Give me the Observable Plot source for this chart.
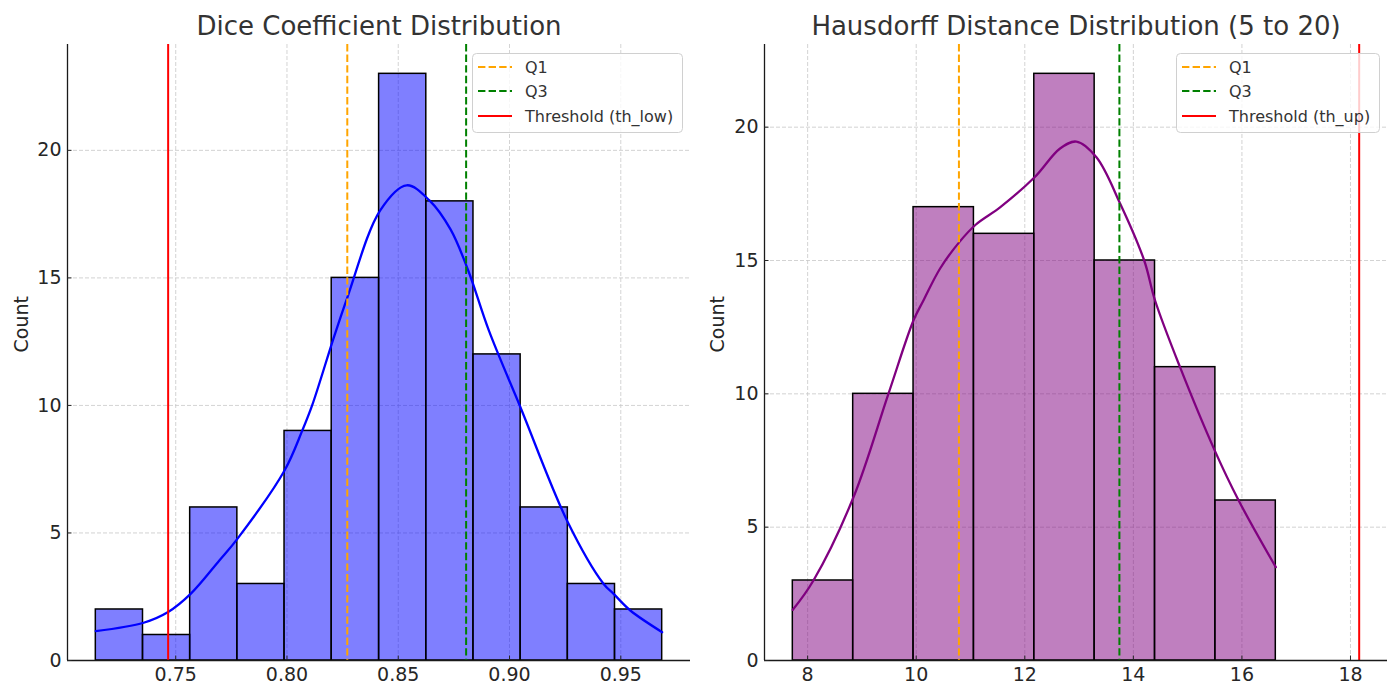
<!DOCTYPE html>
<html>
<head>
<meta charset="utf-8">
<script src="https://cdn.jsdelivr.net/npm/d3@7"></script>
<script src="https://cdn.jsdelivr.net/npm/@observablehq/plot@0.6"></script>
<style>
  html, body { margin: 0; padding: 0; background: white; overflow: hidden; }
  #wrap { position: relative; width: 1387px; height: 683px; font-family: "DejaVu Sans", sans-serif; }
  .pane { position: absolute; top: 0; }
  .legend { position: absolute; }
</style>
</head>
<body>
<div id="wrap">
  <div id="left" class="pane" style="left:0px"></div>
  <div id="right" class="pane" style="left:695px"></div>
</div>
<script>
// ---------- Data ----------
const countTicks = [0, 5, 10, 15, 20];

// Dice coefficient histogram
const diceEdges = [0.7141, 0.7353, 0.7565, 0.7777, 0.7989, 0.8201, 0.8414, 0.8626, 0.8838, 0.9050, 0.9262, 0.9474, 0.9686];
const diceCounts = [2, 1, 6, 3, 9, 15, 23, 18, 12, 6, 3, 2];
const diceKdeX = [0.7141, 0.7356, 0.7466, 0.7567, 0.7696, 0.7777, 0.7989, 0.8069, 0.8113, 0.8211, 0.8272, 0.8419, 0.8538, 0.8640, 0.8735, 0.8814, 0.8907, 0.9049, 0.9262, 0.9423, 0.9468, 0.9543, 0.9686];
const diceKdeY = [1.15, 1.48, 1.90, 2.61, 3.92, 4.77, 7.45, 9.02, 10.0, 12.68, 14.25, 17.65, 18.63, 18.04, 16.90, 15.30, 12.94, 9.93, 5.42, 3.00, 2.61, 1.96, 1.11];
const diceQ1 = 0.8271, diceQ3 = 0.8805, diceThLow = 0.7466;
const diceXTicks = [0.75, 0.80, 0.85, 0.90, 0.95];
const diceTitle = "Dice Coefficient Distribution";
const diceLegend = ["Q1", "Q3", "Threshold (th_low)"];

// Hausdorff distance histogram
const hdEdges = [7.727, 8.839, 9.951, 11.063, 12.175, 13.287, 14.399, 15.511, 16.624];
const hdCounts = [3, 10, 17, 16, 22, 15, 11, 6];
const hdKdeX = [7.727, 8.107, 8.844, 9.488, 9.949, 10.133, 10.44, 10.79, 11.10, 11.55, 12.18, 12.65, 12.95, 13.32, 13.76, 14.20, 14.40, 14.86, 15.50, 15.94, 16.624];
const hdKdeY = [1.90, 3.00, 6.12, 10.0, 12.75, 13.5, 14.7, 15.68, 16.35, 17.0, 18.12, 19.2, 19.46, 18.87, 17.12, 15.0, 13.5, 11.0, 7.87, 6.0, 3.5];
const hdQ1 = 10.787, hdQ3 = 13.743, hdThUp = 18.16;
const hdXTicks = [8, 10, 12, 14, 16, 18];
const hdTitle = "Hausdorff Distance Distribution (5 to 20)";
const hdLegend = ["Q1", "Q3", "Threshold (th_up)"];

// ---------- Drawing ----------
const FONT = "DejaVu Sans, sans-serif";
const GRID = {stroke: "#c8c8c8", strokeOpacity: 1, strokeWidth: 0.8, strokeDasharray: "4,2"};

function panel(o) {
  const bins = o.counts.map((c, i) => ({x0: o.edges[i], x1: o.edges[i + 1], count: c}));
  const kde = o.kdeX.map((x, i) => ({x, y: o.kdeY[i]}));
  const lo = Math.min(o.edges[0], o.th, o.q1);
  const hi = Math.max(o.edges[o.edges.length - 1], o.th, o.q3);
  const pad = (hi - lo) * 0.05;
  const xDomain = [lo - pad, hi + pad];
  const yDomain = [0, d3.max(o.counts) * 1.05];
  return Plot.plot({
    width: o.width, height: 683,
    marginLeft: o.mLeft, marginRight: o.mRight, marginTop: 44, marginBottom: 23,
    x: {domain: xDomain},
    y: {domain: yDomain},
    style: {fontFamily: FONT, fontSize: "19px", color: "#262626", background: "transparent", overflow: "visible"},
    marks: [
      Plot.gridX(o.xTicks, GRID),
      Plot.gridY(countTicks, GRID),
      Plot.rectY(bins, {x1: "x0", x2: "x1", y: "count", fill: o.color, fillOpacity: 0.5, stroke: "black", strokeWidth: 1.5}),
      Plot.line(kde, {x: "x", y: "y", stroke: o.color, strokeWidth: 2.3, curve: "catmull-rom"}),
      Plot.ruleX([o.q1], {stroke: "orange", strokeWidth: 2, strokeDasharray: "7.4,3.2"}),
      Plot.ruleX([o.q3], {stroke: "green", strokeWidth: 2, strokeDasharray: "7.4,3.2"}),
      Plot.ruleX([o.th], {stroke: "red", strokeWidth: 2}),
      Plot.ruleY([0], {stroke: "#1a1a1a", strokeWidth: 1.3}),
      Plot.ruleX([xDomain[0]], {stroke: "#1a1a1a", strokeWidth: 1.3}),
      Plot.axisX({ticks: o.xTicks, tickSize: 0, tickPadding: 7, tickFormat: o.xFormat, fontSize: 19, label: null}),
      Plot.axisX({ticks: o.xTicks, tickSize: 4.5, dy: -4.5, tickFormat: () => "", label: null}),
      Plot.axisY({ticks: countTicks, tickSize: 0, tickPadding: 6, fontSize: 19, label: null}),
      Plot.axisY({ticks: countTicks, tickSize: 4.5, dx: 4.5, tickFormat: () => "", label: null}),
      Plot.text([o.title], {text: d => d, frameAnchor: "top", dy: -9.5, lineAnchor: "bottom", fontSize: 26, fill: "#333"}),
      Plot.text(["Count"], {text: d => d, frameAnchor: "left", dx: o.labelDx, rotate: -90, fontSize: 19, fill: "#262626"})
    ]
  });
}

function legend(container, labels, box) {
  const styles = [
    {stroke: "orange", dash: "7.4,3.2"},
    {stroke: "green", dash: "7.4,3.2"},
    {stroke: "red", dash: null}
  ];
  const svg = d3.select(container).append("svg")
    .attr("class", "legend")
    .style("left", box.left + "px").style("top", box.top + "px")
    .attr("width", box.width + 2).attr("height", box.height + 2);
  svg.append("rect")
    .attr("x", 0.5).attr("y", 0.5).attr("width", box.width).attr("height", box.height)
    .attr("rx", 4).attr("fill", "white").attr("fill-opacity", 0.8)
    .attr("stroke", "#d0d0d0").attr("stroke-width", 1);
  const rows = [14, 38, 63];
  labels.forEach((lab, i) => {
    const s = styles[i];
    const ln = svg.append("line").attr("x1", 6).attr("x2", 40).attr("y1", rows[i]).attr("y2", rows[i])
      .attr("stroke", s.stroke).attr("stroke-width", 2);
    if (s.dash) ln.attr("stroke-dasharray", s.dash);
    svg.append("text").attr("x", 53).attr("y", rows[i]).attr("dy", "0.35em")
      .attr("font-family", FONT).attr("font-size", 16).attr("fill", "#333").text(lab);
  });
}

const wrap = document.getElementById("wrap");

document.getElementById("left").append(panel({
  edges: diceEdges, counts: diceCounts, kdeX: diceKdeX, kdeY: diceKdeY,
  q1: diceQ1, q3: diceQ3, th: diceThLow, color: "blue",
  xTicks: diceXTicks, xFormat: d3.format(".2f"), title: diceTitle,
  width: 695, mLeft: 67, mRight: 5, labelDx: -46
}));

document.getElementById("right").append(panel({
  edges: hdEdges, counts: hdCounts, kdeX: hdKdeX, kdeY: hdKdeY,
  q1: hdQ1, q3: hdQ3, th: hdThUp, color: "purple",
  xTicks: hdXTicks, xFormat: d3.format("d"), title: hdTitle,
  width: 692, mLeft: 69, mRight: 0, labelDx: -47
}));

legend(wrap, diceLegend, {left: 472, top: 53, width: 210, height: 79});
legend(wrap, hdLegend, {left: 1176, top: 53, width: 203, height: 79});
</script>
</body>
</html>
